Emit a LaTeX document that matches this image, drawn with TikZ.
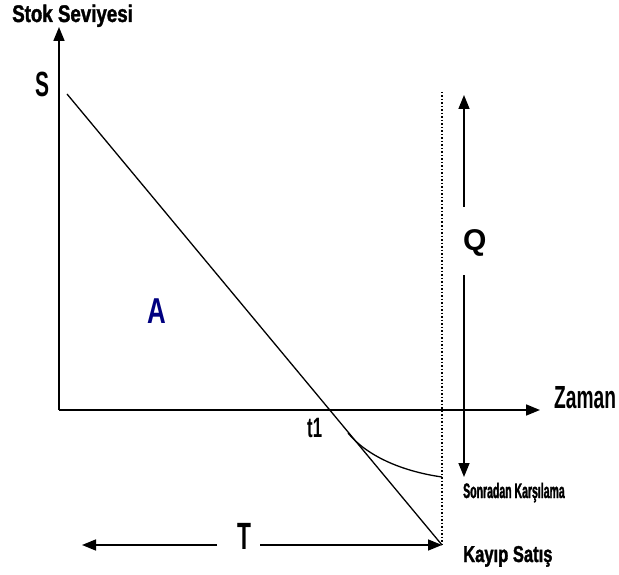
\documentclass[tikz,border=0pt]{standalone}
\usepackage{fontspec}
\setmainfont{Liberation Sans}
\usetikzlibrary{arrows.meta}
\newfontfamily\fBoldA[FakeStretch=0.78,FakeBold=1.5]{Liberation Sans Bold}
\newfontfamily\fBoldB[FakeStretch=0.5,FakeBold=1.5]{Liberation Sans Bold}
\newfontfamily\fBoldC[FakeStretch=0.72,FakeBold=1.5]{Liberation Sans Bold}
\newfontfamily\fNarrow[FakeStretch=0.6]{Liberation Sans Bold}
\newfontfamily\fMid[FakeStretch=0.72]{Liberation Sans Bold}
\newfontfamily\fPlain{Liberation Sans Bold}
\definecolor{navyA}{RGB}{0,0,128}
\tikzset{
  lbl/.style={inner sep=0pt, anchor=base west},
  axis/.style={line width=1.7pt, -{Triangle[length=14pt,width=11pt]}},
  arr/.style={line width=1.5pt, -{Triangle[length=14pt,width=11pt]}},
  thinline/.style={line width=1.3pt},
}
\begin{document}
\begin{tikzpicture}[x=1pt,y=-1pt]
\useasboundingbox (0,0) rectangle (619,575);
% coordinates
\coordinate (O) at (59,410);
\coordinate (ytop) at (59,27);
\coordinate (xend) at (540,410);
\coordinate (Sp) at (67,94);
\coordinate (Ep) at (442,545);
\coordinate (cs) at (348,433);
\coordinate (ce) at (442,477);
\coordinate (dtop) at (442,92);
\coordinate (qup1) at (464,207);
\coordinate (qup2) at (464,95);
\coordinate (qdn1) at (464,275);
\coordinate (qdn2) at (464,477);
\coordinate (tl1) at (217,545);
\coordinate (tl2) at (82,545);
\coordinate (tr1) at (260,545);
% axes
\draw[axis] (O) -- (ytop);
\draw[axis] (O) -- (xend);
% main line
\draw[thinline] (Sp) -- (Ep);
% backorder curve
\draw[thinline] (cs) .. controls (366,455) and (400,471) .. (ce);
% dotted vertical
\draw[line width=1.5pt, dotted] (dtop) -- (Ep);
% Q arrows
\draw[arr] (qup1) -- (qup2);
\draw[arr] (qdn1) -- (qdn2);
% T arrows
\draw[arr] (tl1) -- (tl2);
\draw[arr] (tr1) -- (Ep);
% labels
\node[lbl] (stok) at (12,22) {\fBoldA\fontsize{24}{24}\selectfont Stok Seviyesi};
\node[lbl] (S) at (35,97) {\fNarrow\fontsize{35}{35}\selectfont S};
\node[lbl] (Q) at (463,251) {\fPlain\fontsize{30}{30}\selectfont Q};
\node[lbl] (T) at (237,549) {\fNarrow\fontsize{38}{38}\selectfont T};
\node[lbl] (t1) at (307,437) {\fNarrow\fontsize{28}{28}\selectfont t1};
\node[lbl, text=navyA] (A) at (147,323) {\fMid\fontsize{36}{36}\selectfont A};
\node[lbl] (zaman) at (554,408) {\fNarrow\fontsize{32}{32}\selectfont Zaman};
\node[lbl] (sonra) at (463,498) {\fBoldB\fontsize{21}{21}\selectfont Sonradan Karşılama};
\node[lbl] (kayip) at (463,562) {\fBoldC\fontsize{23}{23}\selectfont Kayıp Satış};
\end{tikzpicture}
\end{document}
